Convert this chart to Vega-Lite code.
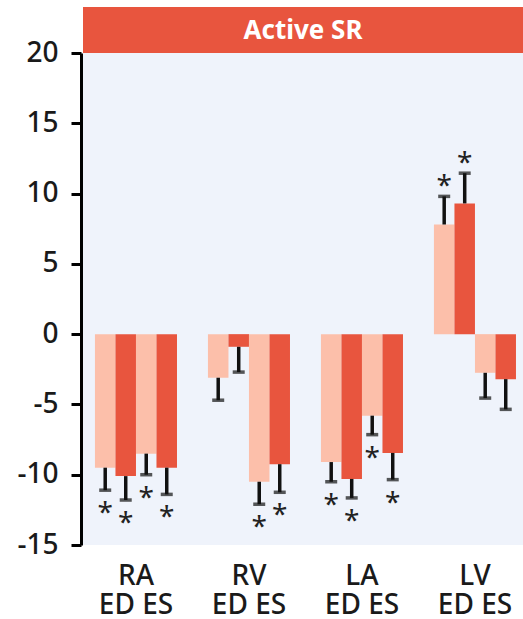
{
  "$schema": "https://vega.github.io/schema/vega-lite/v6.json",
  "background": "white",
  "padding": {"left": 16, "top": 7, "right": 0, "bottom": 0},
  "spacing": 0,
  "bounds": "flush",
  "config": {
    "font": "Noto Sans",
    "view": {"stroke": null}
  },
  "datasets": {
    "bars": [
      {"organ": "RA", "sub": "ED1", "group": "light", "value": -9.5, "err": -11.1, "sig": true},
      {"organ": "RA", "sub": "ED2", "group": "dark", "value": -10.1, "err": -11.8, "sig": true},
      {"organ": "RA", "sub": "ES1", "group": "light", "value": -8.5, "err": -10.0, "sig": true},
      {"organ": "RA", "sub": "ES2", "group": "dark", "value": -9.5, "err": -11.4, "sig": true},
      {"organ": "RV", "sub": "ED1", "group": "light", "value": -3.1, "err": -4.7, "sig": false},
      {"organ": "RV", "sub": "ED2", "group": "dark", "value": -0.9, "err": -2.7, "sig": false},
      {"organ": "RV", "sub": "ES1", "group": "light", "value": -10.5, "err": -12.1, "sig": true},
      {"organ": "RV", "sub": "ES2", "group": "dark", "value": -9.25, "err": -11.25, "sig": true},
      {"organ": "LA", "sub": "ED1", "group": "light", "value": -9.1, "err": -10.5, "sig": true},
      {"organ": "LA", "sub": "ED2", "group": "dark", "value": -10.3, "err": -11.65, "sig": true},
      {"organ": "LA", "sub": "ES1", "group": "light", "value": -5.8, "err": -7.15, "sig": true},
      {"organ": "LA", "sub": "ES2", "group": "dark", "value": -8.45, "err": -10.35, "sig": true},
      {"organ": "LV", "sub": "ED1", "group": "light", "value": 7.8, "err": 9.8, "sig": true},
      {"organ": "LV", "sub": "ED2", "group": "dark", "value": 9.3, "err": 11.45, "sig": true},
      {"organ": "LV", "sub": "ES1", "group": "light", "value": -2.75, "err": -4.55, "sig": false},
      {"organ": "LV", "sub": "ES2", "group": "dark", "value": -3.2, "err": -5.35, "sig": false}
    ]
  },
  "vconcat": [
    {
      "width": 440,
      "height": 46,
      "view": {"fill": "#E8553E", "stroke": null},
      "data": {"values": [{"label": "Active SR"}]},
      "mark": {"type": "text", "color": "white", "fontSize": 26, "fontWeight": "bold", "font": "Noto Sans", "baseline": "middle", "dy": 1},
      "encoding": {"text": {"field": "label"}}
    },
    {
      "width": 440,
      "height": 492,
      "view": {"fill": "#EFF3FB", "stroke": null},
      "data": {"name": "bars"},
      "encoding": {
        "x": {
          "field": "organ",
          "type": "nominal",
          "sort": ["RA", "RV", "LA", "LV"],
          "scale": {"paddingInner": 0.274, "paddingOuter": 0.084, "align": 0.63},
          "axis": {
            "title": null,
            "domain": false,
            "ticks": false,
            "labelAngle": 0,
            "labelFontSize": 28,
            "labelFontWeight": 500,
            "labelColor": "#1a1a1a",
            "labelPadding": 17,
            "labelLineHeight": 29,
            "labelExpr": "[datum.value, 'ED ES']"
          }
        },
        "xOffset": {
          "field": "sub",
          "type": "nominal",
          "sort": ["ED1", "ED2", "ES1", "ES2"],
          "scale": {"paddingInner": 0, "paddingOuter": 0}
        }
      },
      "layer": [
        {
          "mark": {"type": "bar"},
          "encoding": {
            "y": {
              "field": "value",
              "type": "quantitative",
              "scale": {"domain": [-15, 20], "nice": false, "zero": false},
              "axis": {
                "title": null,
                "values": [-15, -10, -5, 0, 5, 10, 15, 20],
                "grid": false,
                "offset": 2,
                "domainColor": "black",
                "domainWidth": 3,
                "tickColor": "black",
                "tickWidth": 3,
                "tickSize": 10,
                "labelFontSize": 28,
                "labelFontWeight": 500,
                "labelColor": "#1a1a1a",
                "labelPadding": 13,
                "labelExpr": "'' + datum.value"
              }
            },
            "color": {
              "field": "group",
              "type": "nominal",
              "scale": {"domain": ["light", "dark"], "range": ["#FCBFAA", "#E8553E"]},
              "legend": null
            }
          }
        },
        {
          "mark": {"type": "rule", "color": "#111", "strokeWidth": 3.5},
          "encoding": {
            "y": {"field": "value", "type": "quantitative"},
            "y2": {"field": "err"}
          }
        },
        {
          "mark": {"type": "tick", "color": "#111", "size": 12, "thickness": 3.5, "orient": "horizontal"},
          "encoding": {
            "y": {"field": "err", "type": "quantitative"}
          }
        },
        {
          "transform": [{"filter": "datum.sig && datum.value < 0"}],
          "mark": {"type": "text", "text": "*", "fontSize": 28, "color": "#222", "baseline": "alphabetic", "dy": 32},
          "encoding": {
            "y": {"field": "err", "type": "quantitative"}
          }
        },
        {
          "transform": [{"filter": "datum.sig && datum.value > 0"}],
          "mark": {"type": "text", "text": "*", "fontSize": 28, "color": "#222", "baseline": "alphabetic", "dy": -1},
          "encoding": {
            "y": {"field": "err", "type": "quantitative"}
          }
        },
        {
          "mark": {"type": "rule", "color": "#111", "strokeWidth": 3.5},
          "encoding": {"y": {"datum": 0}}
        }
      ]
    }
  ]
}
